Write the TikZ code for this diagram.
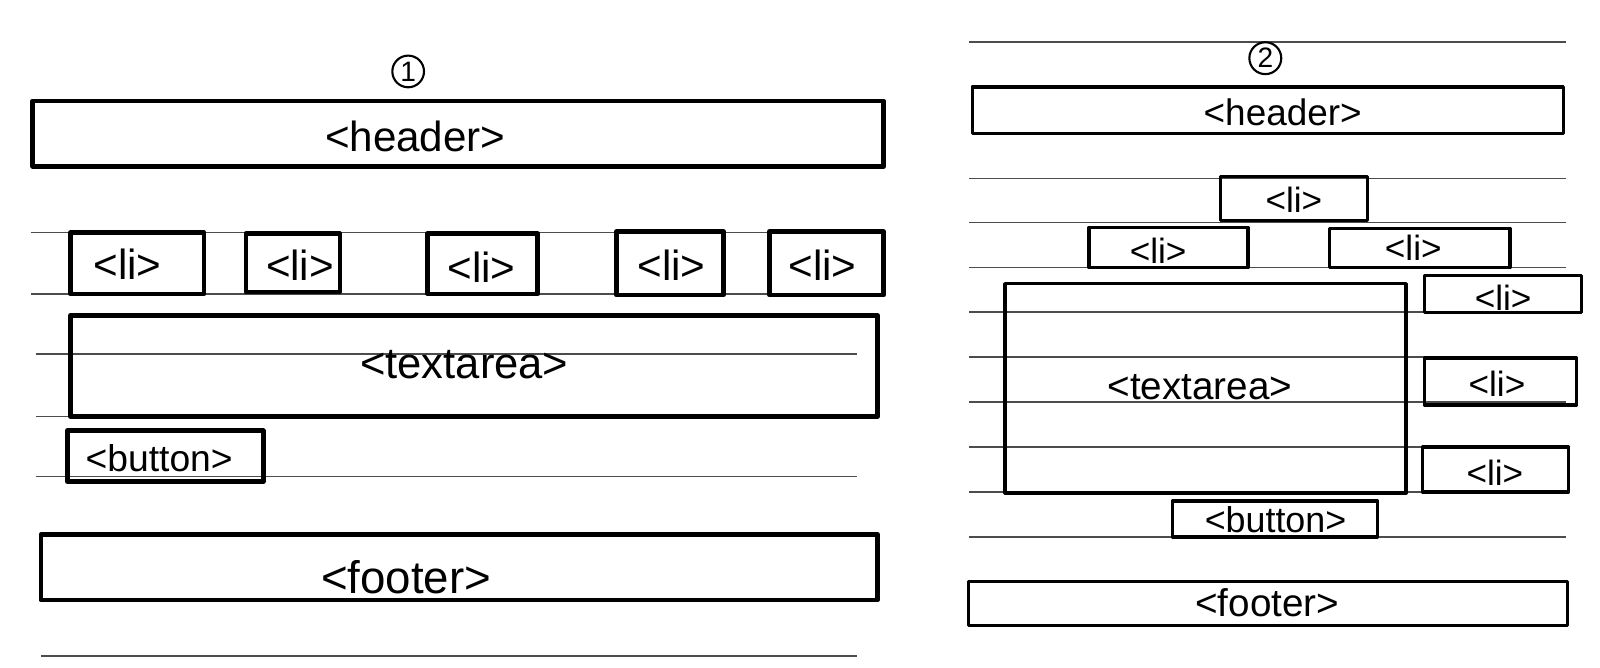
\documentclass[tikz,border=0pt]{standalone}
\usepackage{fontspec}
\setmainfont{Liberation Sans}
\usetikzlibrary{fit}
\begin{document}
\begin{tikzpicture}[x=0.010204cm,y=-0.010204cm,
  rule/.style={line width=0.45pt, black!70},
  wbox/.style={draw, line width=1.3pt, inner sep=0pt, line join=round, line cap=round},
  wboxb/.style={draw, line width=1.0pt, inner sep=0pt, line join=round, line cap=round},
  lbl/.style={inner sep=0pt, font=\fontsize{#1}{#1}\selectfont},
  lbl/.default=12,
  num/.style={draw, circle, line width=0.6pt, inner sep=0.7pt, font=\fontsize{8}{8}\selectfont}]
\fill[white] (0,0) rectangle (1568,654);
\useasboundingbox (0,0) rectangle (1568,654);

% ---------------- panel 1 ----------------
\foreach \y/\a/\b in {228/30/866, 288/30/866, 347/35/840, 408/35/840, 467/35/840, 643/40/840}
  \draw[rule] (\a,\y) -- (\b,\y);

\node[num] (n1) at (400,70) {1};

\node[wbox, fit={(32,99) (866,163)}] (hdrA) {};
\node[lbl=12] (hdrAt) at (407,134) {<header>};

\node[wbox, fit={(69,228) (200,288)}] (liA1) {};
\node[wbox, fit={(241,229) (333,286)}] (liA2) {};
\node[wbox, fit={(419,229) (527,288)}] (liA3) {};
\node[wbox, fit={(604,227) (709,289)}] (liA4) {};
\node[wbox, fit={(754,227) (866,289)}] (liA5) {};
\node[lbl=12] (liA1t) at (125,259) {<li>};
\node[lbl=12] (liA2t) at (294,260) {<li>};
\node[lbl=12] (liA3t) at (472,262) {<li>};
\node[lbl=12] (liA4t) at (658,260) {<li>};
\node[lbl=12] (liA5t) at (806,260) {<li>};

\node[wbox, fit={(69,309) (860,408)}] (taA) {};
\node[lbl=12.4] (taAt) at (455,357) {<textarea>};

\node[wbox, fit={(66,422) (258,472)}] (btA) {};
\node[lbl=10.6] (btAt) at (156,449) {<button>};

\node[wbox, fit={(40,524) (860,588)}] (ftA) {};
\node[lbl=13] (ftAt) at (398,566) {<footer>};

% ---------------- panel 2 ----------------
\foreach \y in {41,175,218,262,306,350,394,438,482,526}
  \draw[rule] (950,\y) -- (1535,\y);

\node[num] (n2) at (1240,57) {2};

\node[wboxb, fit={(953,85) (1532,131)}] (hdrB) {};
\node[lbl=10.5] (hdrBt) at (1257,110) {<header>};

\node[wboxb, fit={(1196,173) (1340,216)}] (liB1) {};
\node[wboxb, fit={(1067,223) (1223,262)}] (liB2) {};
\node[wboxb, fit={(1303,224) (1480,262)}] (liB3) {};
\node[wboxb, fit={(1396,270) (1550,306)}] (liB4) {};
\node[wboxb, fit={(1396,351) (1545,397)}] (liB5) {};
\node[wboxb, fit={(1394,438) (1537,482)}] (liB6) {};
\node[lbl=10] (liB1t) at (1268,196) {<li>};
\node[lbl=10] (liB2t) at (1135,246) {<li>};
\node[lbl=10] (liB3t) at (1385,243) {<li>};
\node[lbl=10] (liB4t) at (1473,292) {<li>};
\node[lbl=10] (liB5t) at (1467,376) {<li>};
\node[lbl=10] (liB6t) at (1465,463) {<li>};

\node[wboxb, fit={(985,278) (1378,483)}] (taB) {};
\node[lbl=11] (taBt) at (1176,379) {<textarea>};

\node[wboxb, fit={(1149,491) (1350,526)}] (btB) {};
\node[lbl=10.2] (btBt) at (1250,509) {<button>};

\node[wboxb, fit={(949,570) (1536,613)}] (ftB) {};
\node[lbl=11] (ftBt) at (1242,591) {<footer>};
\end{tikzpicture}
\end{document}
